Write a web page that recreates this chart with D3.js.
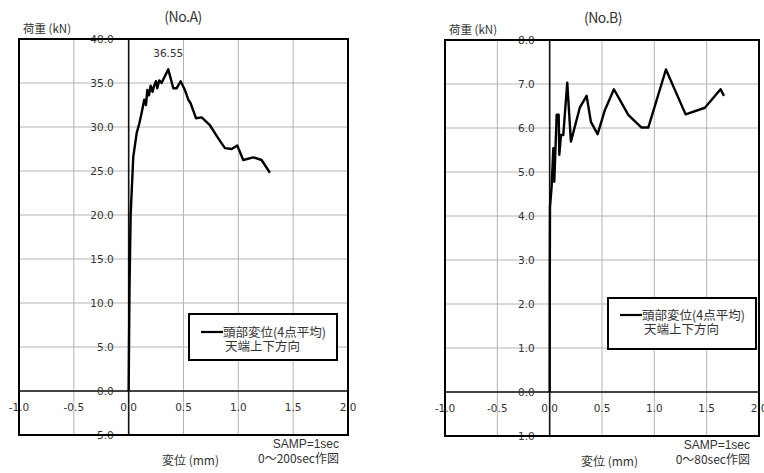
<!DOCTYPE html>
<html lang="ja">
<head>
<meta charset="UTF-8">
<title>荷重-変位</title>
<script src="https://cdn.jsdelivr.net/npm/d3@7"></script>
<style>
  body { margin: 0; background: #fff; }
  svg text { fill: #333; }
</style>
</head>
<body>
<script>
// 変位 (mm) と 荷重 (kN) — 読み取り値
var dispA = [0, 0.003, 0.008, 0.018, 0.027, 0.042, 0.073, 0.097, 0.118, 0.142, 0.158, 0.17, 0.185, 0.2, 0.218, 0.23, 0.249, 0.261, 0.279, 0.30, 0.361, 0.407, 0.437, 0.474, 0.513, 0.544, 0.565, 0.614, 0.665, 0.741, 0.817, 0.878, 0.939, 0.99, 1.045, 1.136, 1.212, 1.288];
var loadA = [0, 5.0, 12.0, 20.0, 22.5, 26.6, 29.3, 30.4, 31.6, 33.1, 32.5, 34.2, 33.6, 34.7, 34.0, 34.6, 35.2, 34.4, 35.3, 35.0, 36.55, 34.4, 34.4, 35.2, 34.2, 33.1, 32.7, 31.0, 31.1, 30.2, 28.7, 27.6, 27.5, 27.9, 26.25, 26.55, 26.25, 24.8];
var dispB = [0, 0.001, 0.003, 0.019, 0.035, 0.044, 0.067, 0.086, 0.092, 0.108, 0.13, 0.168, 0.203, 0.289, 0.353, 0.394, 0.458, 0.528, 0.614, 0.751, 0.878, 0.942, 1.111, 1.299, 1.483, 1.633, 1.665];
var loadB = [0, 2.5, 4.2, 4.67, 5.54, 4.78, 6.3, 6.3, 5.39, 5.84, 5.84, 7.03, 5.69, 6.47, 6.73, 6.14, 5.86, 6.41, 6.88, 6.3, 6.01, 6.01, 7.33, 6.31, 6.46, 6.88, 6.73];

var xTicks = [-1, -0.5, 0, 0.5, 1, 1.5, 2];
var yTicksA = [-5, 0, 5, 10, 15, 20, 25, 30, 35, 40];
var yTicksB = [-1, 0, 1, 2, 3, 4, 5, 6, 7, 8];
var legendLines = ["頭部変位(4点平均)", "天端上下方向"];
var peakA = 36.55;

var width = 764, height = 473;
var svg = d3.select("body").append("svg").attr("width", width).attr("height", height);

// d3.format は U+2212 を使うので普通のハイフンに置き換える
var fmtX = function(v) { return d3.format(".1f")(v).replace("\u2212", "-"); };
// 縦軸は符号なし表示 (0.0;0.0)
var fmtY = function(v) { return d3.format(".1f")(Math.abs(v)); };

function drawChart(o) {
    var x = d3.scaleLinear().domain([-1, 2]).range([o.left, o.right]);
    var y = d3.scaleLinear().domain(o.yDomain).range([o.bottom, o.top]);
    var g = svg.append("g");

    // grid
    g.selectAll(".gx").data(xTicks).enter().append("line")
        .attr("x1", function(d) { return x(d); }).attr("x2", function(d) { return x(d); })
        .attr("y1", o.top).attr("y2", o.bottom)
        .attr("stroke", "#b4b4b4").attr("stroke-width", 1);
    g.selectAll(".gy").data(o.yTicks).enter().append("line")
        .attr("y1", function(d) { return y(d); }).attr("y2", function(d) { return y(d); })
        .attr("x1", o.left).attr("x2", o.right)
        .attr("stroke", "#b4b4b4").attr("stroke-width", 1);

    // axis lines through zero
    g.append("line").attr("x1", x(0)).attr("x2", x(0)).attr("y1", o.top).attr("y2", o.bottom)
        .attr("stroke", "#111").attr("stroke-width", 1.6);
    g.append("line").attr("x1", o.left).attr("x2", o.right).attr("y1", y(0)).attr("y2", y(0))
        .attr("stroke", "#111").attr("stroke-width", 1.6);

    // tick labels
    g.selectAll(".tx").data(xTicks).enter().append("text")
        .attr("x", function(d) { return x(d); }).attr("y", y(0) + 16)
        .attr("dy", "0.35em").attr("text-anchor", "middle")
        .style("font", "10.5px 'DejaVu Sans'")
        .text(fmtX);
    g.selectAll(".ty").data(o.yTicks).enter().append("text")
        .attr("x", x(0) - 15).attr("y", function(d) { return y(d); })
        .attr("dy", "0.35em").attr("text-anchor", "end")
        .style("font", "10.5px 'DejaVu Sans'")
        .text(fmtY);

    // series
    var line = d3.line().x(function(d) { return x(d[0]); }).y(function(d) { return y(d[1]); });
    g.append("path").datum(d3.zip(o.disp, o.load))
        .attr("d", line).attr("fill", "none")
        .attr("stroke", "#000").attr("stroke-width", 2.4).attr("stroke-linejoin", "round");

    // frame
    g.append("rect").attr("x", o.left).attr("y", o.top)
        .attr("width", o.right - o.left).attr("height", o.bottom - o.top)
        .attr("fill", "none").attr("stroke", "#000").attr("stroke-width", 2);

    // legend
    var lg = g.append("g").attr("transform", "translate(" + o.legend[0] + "," + o.legend[1] + ")");
    lg.append("rect").attr("width", 148).attr("height", o.legend[2])
        .attr("fill", "#fff").attr("stroke", "#000").attr("stroke-width", 2);
    lg.append("line").attr("x1", 12).attr("x2", 34).attr("y1", o.legend[3]).attr("y2", o.legend[3])
        .attr("stroke", "#000").attr("stroke-width", 2.2);
    lg.selectAll(".lt").data(legendLines).enter().append("text")
        .attr("x", function(d, i) { return i ? 36 : 34; })
        .attr("y", function(d, i) { return o.legend[3] + i * 14; })
        .attr("dy", "0.36em")
        .style("font", "12.5px 'Noto Sans CJK JP'")
        .text(function(d) { return d; });

    // titles & notes
    g.append("text").attr("x", o.titleX).attr("y", o.top - 17).attr("text-anchor", "middle")
        .style("font", "14px 'Noto Sans CJK JP'").style("letter-spacing", "-0.5px").text(o.title);
    g.append("text").attr("x", o.left + 4).attr("y", o.top - 6)
        .style("font", "11.5px 'Noto Sans CJK JP'").text("荷重 (kN)");
    g.append("text").attr("x", o.right - 9).attr("y", o.bottom + 13).attr("text-anchor", "end")
        .style("font", "12px 'Liberation Sans'").text("SAMP=1sec");
    g.append("text").attr("x", o.right - 9).attr("y", o.bottom + 28).attr("text-anchor", "end")
        .style("font", "12px 'Noto Sans CJK JP'").text(o.note);
    g.append("text").attr("x", o.xLabel).attr("y", o.bottom + 30)
        .style("font", "12px 'Noto Sans CJK JP'").text("変位 (mm)");

    return { x: x, y: y, g: g };
}

var a = drawChart({
    left: 19, right: 348, top: 39, bottom: 435, yDomain: [-5, 40], yTicks: yTicksA,
    disp: dispA, load: loadA, legend: [189, 314, 46, 18], title: "(No.A)", titleX: 183,
    note: "0〜200sec作図", xLabel: 162
});
// peak label
var iPeak = loadA.indexOf(peakA);
a.g.append("text").attr("x", a.x(dispA[iPeak])).attr("y", a.y(peakA) - 12)
    .attr("text-anchor", "middle").style("font", "10.5px 'DejaVu Sans'")
    .text(d3.format(".2f")(peakA));

drawChart({
    left: 445, right: 759, top: 40, bottom: 436, yDomain: [-1, 8], yTicks: yTicksB,
    disp: dispB, load: loadB, legend: [608, 298, 51, 17], title: "(No.B)", titleX: 603,
    note: "0〜80sec作図", xLabel: 581
});
</script>
</body>
</html>
